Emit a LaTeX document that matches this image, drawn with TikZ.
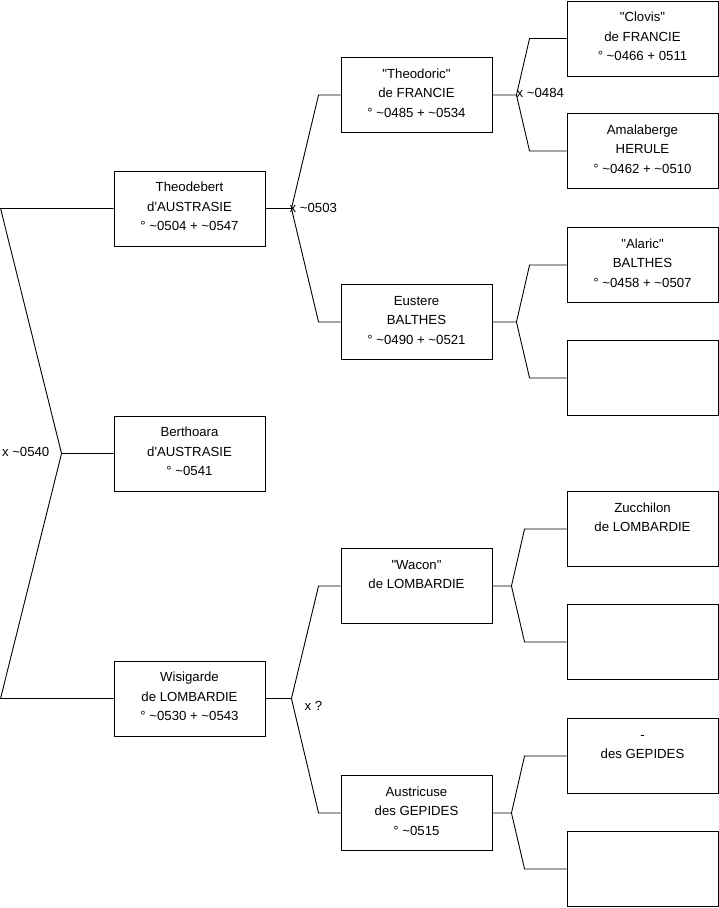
\documentclass[tikz,border=0pt]{standalone}
\usepackage{fontspec}
\newfontfamily\treefont{Liberation Sans}
\usetikzlibrary{positioning}
\tikzset{
  person/.style={rectangle,draw=black,line width=0.9pt,minimum width=151pt,
                 minimum height=75pt,inner sep=0pt},
  persontext/.style={font=\treefont\fontsize{13.2}{19.5}\selectfont,align=center,
                     inner sep=0pt,anchor=north},
  link/.style={draw=black,line width=0.9pt},
  union/.style={font=\treefont\fontsize{13.2}{16}\selectfont,inner sep=0pt},
}
\newcommand{\ca}{\textasciitilde}
\newcommand{\toprow}{\rule{0pt}{9.6pt}}

\begin{document}
\begin{tikzpicture}[x=1pt,y=-1pt]
  \useasboundingbox (0,0) rectangle (719,908);

  % first generation
  \node[person] (berthoara)  at (189.5,453.5) {};
  % parents
  \node[person] (theodebert) at (189.5,208.5) {};
  \node[person] (wisigarde)  at (189.5,698.5) {};
  % grand-parents
  \node[person] (theodoric)  at (416.5,95)  {};
  \node[person] (eustere)    at (416.5,322) {};
  \node[person] (wacon)      at (416.5,586) {};
  \node[person] (austricuse) at (416.5,813) {};
  % great-grand-parents
  \node[person] (clovis)     at (642.5,38.5) {};
  \node[person] (amalaberge) at (642.5,151)  {};
  \node[person] (alaric)     at (642.5,265)  {};
  \node[person] (eusmother)  at (642.5,378)  {};
  \node[person] (zucchilon)  at (642.5,529)  {};
  \node[person] (wacmother)  at (642.5,642)  {};
  \node[person] (gepide)     at (642.5,756)  {};
  \node[person] (ausmother)  at (642.5,869)  {};

  % texts
  \node[persontext,below=11.5pt of berthoara.north]  (berthoara-t)
    {\toprow Berthoara\\d'AUSTRASIE\\° \ca0541};
  \node[persontext,below=11.5pt of theodebert.north] (theodebert-t)
    {\toprow Theodebert\\d'AUSTRASIE\\° \ca0504 + \ca0547};
  \node[persontext,below=11.5pt of wisigarde.north]  (wisigarde-t)
    {\toprow Wisigarde\\de LOMBARDIE\\° \ca0530 + \ca0543};
  \node[persontext,below=11.5pt of theodoric.north]  (theodoric-t)
    {\toprow "Theodoric"\\de FRANCIE\\° \ca0485 + \ca0534};
  \node[persontext,below=11.5pt of eustere.north]    (eustere-t)
    {\toprow Eustere\\BALTHES\\° \ca0490 + \ca0521};
  \node[persontext,below=11.5pt of wacon.north]      (wacon-t)
    {\toprow "Wacon"\\de LOMBARDIE};
  \node[persontext,below=11.5pt of austricuse.north] (austricuse-t)
    {\toprow Austricuse\\des GEPIDES\\° \ca0515};
  \node[persontext,below=11.5pt of clovis.north]     (clovis-t)
    {\toprow "Clovis"\\de FRANCIE\\° \ca0466 + 0511};
  \node[persontext,below=11.5pt of amalaberge.north] (amalaberge-t)
    {\toprow Amalaberge\\HERULE\\° \ca0462 + \ca0510};
  \node[persontext,below=11.5pt of alaric.north]     (alaric-t)
    {\toprow "Alaric"\\BALTHES\\° \ca0458 + \ca0507};
  \node[persontext,below=11.5pt of zucchilon.north]  (zucchilon-t)
    {\toprow Zucchilon\\de LOMBARDIE};
  \node[persontext,below=11.5pt of gepide.north]     (gepide-t)
    {\toprow -\\des GEPIDES};

  % junctions
  \coordinate (u1) at ([xshift=-52pt]berthoara.west);
  \coordinate (u2) at ([xshift=26pt]theodebert.east);
  \coordinate (u3) at ([xshift=26pt]wisigarde.east);
  \coordinate (u4) at ([xshift=24pt]theodoric.east);
  \coordinate (u5) at ([xshift=24pt]eustere.east);
  \coordinate (u6) at ([xshift=19pt]wacon.east);
  \coordinate (u7) at ([xshift=19pt]austricuse.east);

  \draw[link] (berthoara.west) -- (u1) -- ([xshift=-113pt]theodebert.west) -- (theodebert.west);
  \draw[link] (u1) -- ([xshift=-113pt]wisigarde.west) -- (wisigarde.west);
  \draw[link] (theodebert.east) -- (u2) -- ([xshift=-22pt]theodoric.west) -- (theodoric.west);
  \draw[link] (u2) -- ([xshift=-22pt]eustere.west) -- (eustere.west);
  \draw[link] (wisigarde.east) -- (u3) -- ([xshift=-22pt]wacon.west) -- (wacon.west);
  \draw[link] (u3) -- ([xshift=-22pt]austricuse.west) -- (austricuse.west);
  \draw[link] (theodoric.east) -- (u4) -- ([xshift=-37pt]clovis.west) -- (clovis.west);
  \draw[link] (u4) -- ([xshift=-37pt]amalaberge.west) -- (amalaberge.west);
  \draw[link] (eustere.east) -- (u5) -- ([xshift=-37pt]alaric.west) -- (alaric.west);
  \draw[link] (u5) -- ([xshift=-37pt]eusmother.west) -- (eusmother.west);
  \draw[link] (wacon.east) -- (u6) -- ([xshift=-42pt]zucchilon.west) -- (zucchilon.west);
  \draw[link] (u6) -- ([xshift=-42pt]wacmother.west) -- (wacmother.west);
  \draw[link] (austricuse.east) -- (u7) -- ([xshift=-42pt]gepide.west) -- (gepide.west);
  \draw[link] (u7) -- ([xshift=-42pt]ausmother.west) -- (ausmother.west);

  % marriages
  \node[union,anchor=east] (m1) at ([xshift=-12pt,yshift=1.5pt]u1) {x \ca0540};
  \node[union,anchor=west] (m2) at ([xshift=-2pt,yshift=1pt]u2) {x \ca0503};
  \node[union,anchor=west] (m3) at ([xshift=13pt,yshift=-7.5pt]u3) {x ?};
  \node[union,anchor=west] (m4) at ([yshift=2pt]u4) {x \ca0484};
\end{tikzpicture}
\end{document}
